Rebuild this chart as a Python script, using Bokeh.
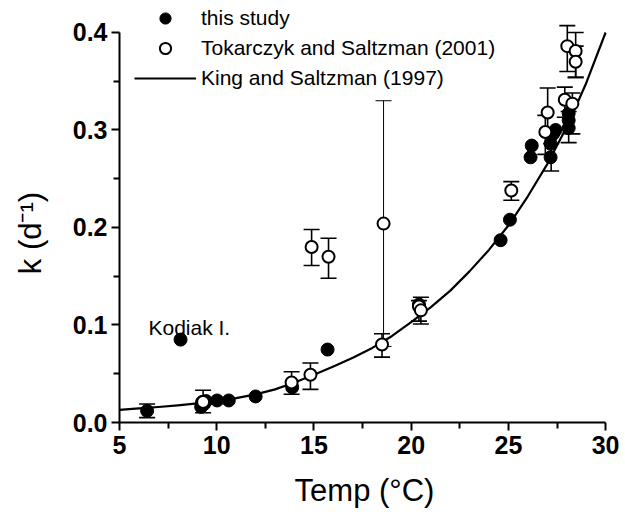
from bokeh.plotting import figure
from bokeh.models import (Range1d, ColumnDataSource, Whisker, TeeHead, Legend, LegendItem,
                          Label, FixedTicker, PrintfTickFormatter)
from bokeh.embed import file_html
from bokeh.resources import INLINE

# ---------------- data ----------------
# "this study" (filled circles)
study_temp = [6.42, 8.14, 9.2, 9.25, 9.35, 9.45, 10.02, 10.62, 12.0, 13.88, 15.7,
              20.4, 24.6, 25.08, 26.14, 26.2, 27.17, 27.17, 27.3, 27.43, 28.1, 28.1, 28.1]
study_k = [0.012, 0.085, 0.016, 0.021, 0.019, 0.022, 0.0226, 0.0226, 0.0267, 0.036, 0.0748,
           0.121, 0.187, 0.208, 0.272, 0.284, 0.272, 0.286, 0.296, 0.300, 0.302, 0.310, 0.317]
# error bars of "this study"
study_err_temp = [6.42, 27.2, 28.1]
study_err_low = [0.005, 0.258, 0.287]
study_err_high = [0.019, 0.286, 0.319]

# Tokarczyk and Saltzman (2001) (open circles)
tok_temp = [9.3, 13.85, 14.82, 14.88, 15.75, 18.5, 18.58, 20.4, 20.5, 25.15,
            26.9, 27.02, 27.9, 28.03, 28.29, 28.46, 28.46]
tok_k = [0.021, 0.041, 0.049, 0.180, 0.170, 0.080, 0.204, 0.119, 0.115, 0.238,
         0.298, 0.318, 0.331, 0.386, 0.327, 0.381, 0.370]
tok_low = [0.010, 0.029, 0.034, 0.161, 0.148, 0.067, 0.078, 0.104, 0.101, 0.228,
           0.275, 0.298, 0.313, 0.360, 0.296, 0.354, 0.354]
tok_high = [0.033, 0.052, 0.061, 0.198, 0.189, 0.091, 0.330, 0.125, 0.1285, 0.247,
            0.315, 0.343, 0.344, 0.407, 0.338, 0.400, 0.386]
tok_thin = [False, False, False, False, False, False, True, False, False, False,
            False, False, False, False, False, False, False]

# King and Saltzman (1997) curve
king_temp = [5, 6, 7, 8, 9, 10, 11, 12, 13, 14, 15, 16, 17, 18, 19, 20, 21, 22, 23,
             24, 25, 26, 27, 28, 29, 30]
king_k = [0.0130, 0.0144, 0.0159, 0.0176, 0.0196, 0.0220, 0.0250, 0.0288, 0.0340,
          0.0410, 0.0490, 0.0575, 0.0665, 0.0765, 0.0885, 0.1030, 0.1180, 0.1350,
          0.1550, 0.1770, 0.2020, 0.2320, 0.2650, 0.3030, 0.3480, 0.4000]

x_ticks = [5, 10, 15, 20, 25, 30]
x_minor_ticks = [7.5, 12.5, 17.5, 22.5, 27.5]
y_ticks = [0.0, 0.1, 0.2, 0.3, 0.4]
y_minor_ticks = [0.05, 0.15, 0.25, 0.35]

kodiak_label = "Kodiak I."
kodiak_label_pos = (6.49, 0.0974)

FONT = "Liberation Sans"

# ---------------- figure ----------------
p = figure(width=625, height=516, x_range=Range1d(5, 30.2), y_range=Range1d(0, 0.4328),
           output_backend="svg", toolbar_location=None,
           min_border_left=119, min_border_right=16, min_border_top=0, min_border_bottom=94)
p.outline_line_color = None
p.grid.visible = False
p.background_fill_color = "white"
p.border_fill_color = "white"

xa = p.xaxis[0]
ya = p.yaxis[0]
xa.ticker = FixedTicker(ticks=x_ticks, minor_ticks=x_minor_ticks)
ya.ticker = FixedTicker(ticks=y_ticks, minor_ticks=y_minor_ticks)
ya.formatter = PrintfTickFormatter(format="%.1f")
xa.bounds = (5, 30)
ya.bounds = (0, 0.4)
for ax in (xa, ya):
    ax.axis_line_width = 2
    ax.axis_line_color = "black"
    ax.major_tick_line_width = 2
    ax.minor_tick_line_width = 2
    ax.major_tick_line_color = "black"
    ax.minor_tick_line_color = "black"
    ax.major_tick_out = 8
    ax.major_tick_in = 0
    ax.minor_tick_out = 6
    ax.minor_tick_in = 0
    ax.major_label_text_font = FONT
    ax.major_label_text_font_style = "bold"
    ax.major_label_text_font_size = "25px"
    ax.major_label_text_color = "black"
    ax.axis_label_text_font = FONT
    ax.axis_label_text_font_style = "normal"
    ax.axis_label_text_font_size = "31px"
    ax.axis_label_text_color = "black"
xa.major_label_standoff = 5
ya.major_label_standoff = 4
xa.axis_label = "Temp (°C)"
# non-breaking spaces push the rotated title a little below the frame's middle
ya.axis_label = "k (d⁻¹)\u00a0\u00a0\u00a0\u00a0\u00a0"
xa.axis_label_standoff = 16
ya.axis_label_standoff = 22

# error bars
def whisker(base, low, high, lw):
    src = ColumnDataSource(dict(base=base, lower=low, upper=high))
    w = Whisker(source=src, base="base", lower="lower", upper="upper", dimension="height",
                line_color="black", line_width=lw,
                upper_head=TeeHead(size=16, line_width=lw, line_color="black"),
                lower_head=TeeHead(size=16, line_width=lw, line_color="black"),
                level="underlay")
    p.add_layout(w)

thick_idx = [i for i, t in enumerate(tok_thin) if not t]
thin_idx = [i for i, t in enumerate(tok_thin) if t]
whisker([tok_temp[i] for i in thick_idx], [tok_low[i] for i in thick_idx],
        [tok_high[i] for i in thick_idx], 1.6)
whisker([tok_temp[i] for i in thin_idx], [tok_low[i] for i in thin_idx],
        [tok_high[i] for i in thin_idx], 1.0)
whisker(study_err_temp, study_err_low, study_err_high, 1.6)

# curve
r_king = p.line(king_temp, king_k, line_color="black", line_width=2.2, line_join="round")

# points
r_study = p.scatter(study_temp, study_k, marker="circle", size=13,
                    fill_color="black", line_color="black")
r_tok = p.scatter(tok_temp, tok_k, marker="circle", size=12, fill_color="white",
                  line_color="black", line_width=2)

p.add_layout(Label(x=kodiak_label_pos[0], y=kodiak_label_pos[1], text=kodiak_label,
                   text_font=FONT, text_font_size="21px", text_color="black",
                   text_baseline="alphabetic"))

legend = Legend(items=[LegendItem(label="this study", renderers=[r_study]),
                       LegendItem(label="Tokarczyk and Saltzman (2001)", renderers=[r_tok]),
                       LegendItem(label="King and Saltzman (1997)", renderers=[r_king])],
                location=(15, 330), glyph_width=62, glyph_height=28, label_height=28,
                spacing=2, padding=0, margin=0, label_standoff=5,
                border_line_color=None, background_fill_alpha=0,
                label_text_font=FONT, label_text_font_size="21px", label_text_color="black")
p.add_layout(legend)

open("out.html", "w").write(file_html(p, INLINE))
